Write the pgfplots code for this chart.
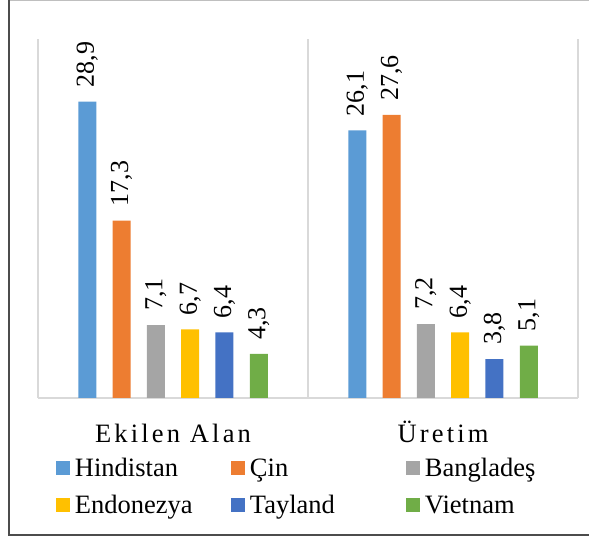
\documentclass[border=0pt]{standalone}
\usepackage{pgfplots}
\pgfplotsset{compat=1.18}
\usepackage{fontspec}
\setmainfont{Liberation Serif}
\newfontfamily\spaced[LetterSpace=12]{Liberation Serif}
\definecolor{c1}{HTML}{5B9BD5}
\definecolor{c2}{HTML}{ED7D31}
\definecolor{c3}{HTML}{A5A5A5}
\definecolor{c4}{HTML}{FFC000}
\definecolor{c5}{HTML}{4472C4}
\definecolor{c6}{HTML}{70AD47}
\definecolor{gridc}{HTML}{D9D9D9}
\begin{document}
\begin{tikzpicture}[x=1pt,y=1pt]
\useasboundingbox (0,0) rectangle (589,538);
\draw[gray!50, line width=1pt] (9,537.5) -- (589,537.5);
\draw[black!70, line width=1.3pt] (9,538) -- (9,3) -- (589,3);
\begin{axis}[
  at={(38pt,140pt)}, anchor=south west,
  scale only axis, width=540pt, height=359pt,
  ymin=0, ymax=35, xmin=-0.5, xmax=1.5,
  ybar=16.3pt, bar width=18pt,
  axis x line*=bottom, axis y line=none,
  x axis line style={draw=gridc, line width=1.5pt, -},
  xtick={0,1}, xticklabels={Ekilen Alan,Üretim},
  xtick style={draw=none},
  xticklabel style={anchor=base, inner sep=0pt, yshift=-40pt, font=\spaced\fontsize{26.5}{26.5}\selectfont},
  extra x ticks={-0.5,0.5,1.5}, extra x tick labels={},
  extra x tick style={grid=major, major grid style={draw=gridc, line width=1.5pt}, tick style={draw=none}},
  nodes near coords={\pgfmathprintnumber[use comma,fixed,fixed zerofill,precision=1,assume math mode=true]{\pgfplotspointmeta}},
  nodes near coords style={rotate=90, anchor=west, inner sep=0pt, inner xsep=14pt, font=\fontsize{26}{26}\selectfont, text=black},
  sq/.style={draw=none, fill=#1, legend image code/.code={\fill[#1] (0pt,2pt) rectangle (14pt,16pt);}},
  legend columns=3,
  legend style={at={(axis description cs:0.0333,-0.1643)}, anchor=north west, draw=none, fill=none,
    inner sep=0pt, outer sep=0pt, font=\fontsize{26.5}{26.5}\selectfont, row sep=0pt, column sep=0pt,
    /tikz/every odd column/.style={column sep=5pt},
    nodes={inner sep=0pt, text width=156pt, text height=20pt, text depth=17pt, align=left},
    cells={anchor=base west}},
]
\addplot[sq=c1] coordinates {(0,28.9) (1,26.1)};
\addplot[sq=c2] coordinates {(0,17.3) (1,27.6)};
\addplot[sq=c3] coordinates {(0,7.1) (1,7.2)};
\addplot[sq=c4] coordinates {(0,6.7) (1,6.4)};
\addplot[sq=c5] coordinates {(0,6.4) (1,3.8)};
\addplot[sq=c6] coordinates {(0,4.3) (1,5.1)};
\legend{Hindistan,Çin,Bangladeş,Endonezya,Tayland,Vietnam}
\end{axis}
\end{tikzpicture}
\end{document}
